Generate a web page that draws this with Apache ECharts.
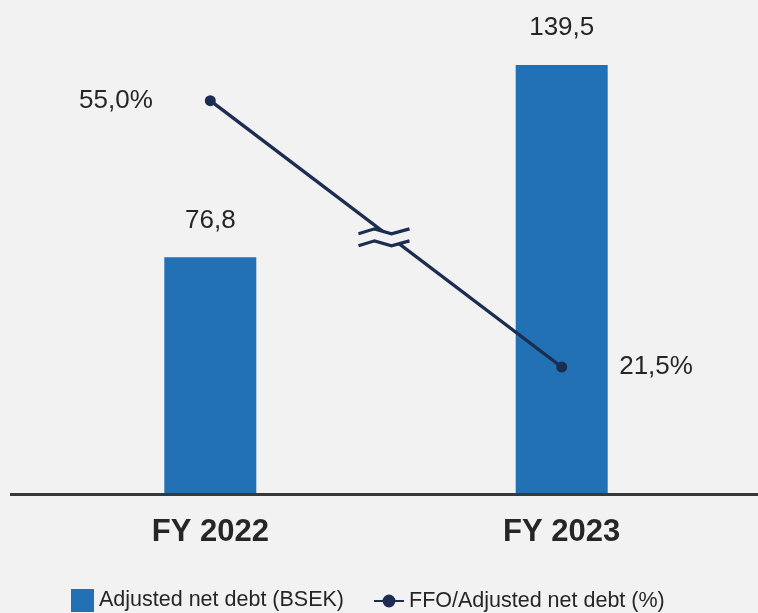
<!DOCTYPE html>
<html>
<head>
<meta charset="utf-8">
<script src="https://cdn.jsdelivr.net/npm/echarts@6/dist/echarts.min.js"></script>
<style>
  html, body { margin: 0; padding: 0; background: #f2f2f2; }
  #chart { width: 758px; height: 613px; }
</style>
</head>
<body>
<div id="chart"></div>
<script>
// Data
const categories = ['FY 2022', 'FY 2023'];
const netDebt = [76.8, 139.5];          // Adjusted net debt, BSEK
const ffoRatio = [55.0, 21.5];          // FFO / Adjusted net debt, %
const seriesNames = ['Adjusted net debt (BSEK)', 'FFO/Adjusted net debt (%)'];

// Styling
const BG = '#f2f2f2';
const BAR = '#2271b5';
const LINE = '#1c2d50';
const TEXT = '#262626';
const FONT = '"Liberation Sans", Arial, sans-serif';

const fmt = (v, suffix) => v.toFixed(1).replace('.', ',') + (suffix || '');

const chart = echarts.init(document.getElementById('chart'), null, { renderer: 'canvas' });

chart.setOption({
  backgroundColor: BG,
  animation: false,
  textStyle: { fontFamily: FONT },
  grid: { left: 34.6, right: 20.6, top: 65, bottom: 120 },
  xAxis: {
    type: 'category',
    data: categories,
    axisLine: { show: false },
    axisTick: { show: false },
    axisLabel: { fontSize: 31, fontWeight: 'bold', color: TEXT, margin: 24, fontFamily: FONT }
  },
  yAxis: [
    { type: 'value', min: 0, max: 139.5, show: false },
    { type: 'value', min: 5.65, max: 59.49, show: false }
  ],
  legend: [
    {
      data: [seriesNames[0]],
      left: 71, top: 589,
      padding: 0,
      itemWidth: 23, itemHeight: 23,
      icon: 'rect',
      textStyle: { fontSize: 21.5, color: TEXT, fontFamily: FONT }
    },
    {
      data: [seriesNames[1]],
      left: 373, top: 590,
      padding: 0,
      itemWidth: 30, itemHeight: 16,
      textStyle: { fontSize: 21.5, color: TEXT, fontFamily: FONT }
    }
  ],
  series: [
    {
      name: seriesNames[0],
      type: 'bar',
      data: netDebt,
      barWidth: 92,
      yAxisIndex: 0,
      itemStyle: { color: BAR },
      label: {
        show: true,
        position: 'top',
        distance: 24,
        fontSize: 26,
        color: TEXT,
        fontFamily: FONT,
        formatter: p => fmt(p.value)
      }
    },
    {
      name: seriesNames[1],
      type: 'line',
      yAxisIndex: 1,
      data: ffoRatio.map((v, i) => ({
        value: v,
        label: { position: i === 0 ? 'left' : 'right' }
      })),
      symbol: 'circle',
      symbolSize: 11,
      z: 5,
      lineStyle: { color: LINE, width: 3.4 },
      itemStyle: { color: LINE },
      label: {
        show: true,
        distance: 52,
        fontSize: 26,
        color: TEXT,
        fontFamily: FONT,
        formatter: p => fmt(p.value, '%')
      }
    }
  ]
});

// Baseline across the full width, and the axis-break mark on the ratio line
const y0 = chart.convertToPixel({ yAxisIndex: 0 }, 0);
const a = chart.convertToPixel({ seriesIndex: 1 }, [0, ffoRatio[0]]);
const b = chart.convertToPixel({ seriesIndex: 1 }, [1, ffoRatio[1]]);
const cx = (a[0] + b[0]) / 2 - 1.5;
const cy = (a[1] + b[1]) / 2 + 4;

const topWave = [[-26, -4], [-10, -9], [7, -4], [25, -9]];
const bottomWave = [[-26, 8], [-10, 3], [7, 8], [25, 3]];

chart.setOption({
  graphic: [
    {
      type: 'line',
      z: 10,
      shape: { x1: 10, y1: y0 + 1.5, x2: 758, y2: y0 + 1.5 },
      style: { stroke: '#383838', lineWidth: 3 }
    },
    {
      type: 'group',
      x: cx, y: cy,
      z: 100,
      children: [
        {
          type: 'polygon',
          z: 100,
          shape: { points: topWave.concat(bottomWave.slice().reverse()) },
          style: { fill: BG, stroke: null }
        },
        {
          type: 'polyline',
          z: 101,
          shape: { points: topWave },
          style: { stroke: LINE, lineWidth: 3.2, fill: null }
        },
        {
          type: 'polyline',
          z: 101,
          shape: { points: bottomWave },
          style: { stroke: LINE, lineWidth: 3.2, fill: null }
        }
      ]
    }
  ]
});
</script>
</body>
</html>
